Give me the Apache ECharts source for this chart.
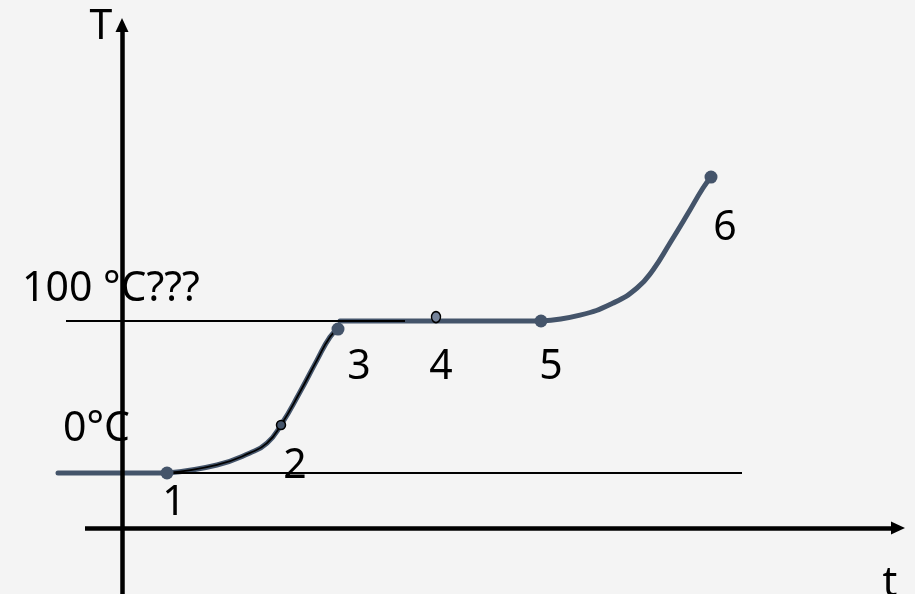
<!DOCTYPE html>
<html>
<head>
<meta charset="utf-8">
<script src="https://cdn.jsdelivr.net/npm/echarts@6/dist/echarts.min.js"></script>
<style>
html,body{margin:0;padding:0;background:#f4f4f4}
#main{width:915px;height:594px}
</style>
</head>
<body>
<div id="main"></div>
<script>
// 加热曲线: t 时间(任意单位), T 温度(°C)
// 冰段(水平)
var iceT = [-6.4, 4.5];
var iceTemp = [0, 0];
// 1 -> 3 升温曲线
var meltT = [4.5, 9.5, 12.8, 14.5, 15.9, 17.8, 19.5, 20.8, 21.6];
var meltTemp = [0, 5.3, 13.2, 19.7, 31.6, 53.3, 74.3, 89.5, 94.7];
// 3 -> 5 沸腾(水平)
var boilT = [21.8, 41.9];
var boilTemp = [100, 100];
// 5 -> 6 蒸汽升温
var steamT = [41.9, 45.8, 49.1, 51.5, 53.1, 54.8, 56.5, 58.1, 58.9];
var steamTemp = [100, 103.9, 111.8, 121.7, 133.6, 151.3, 169.7, 187.5, 194.7];

// 标记点
var pointNames = ['1', '2', '3', '4', '5', '6'];
var pointT = [4.5, 15.9, 21.6, 31.4, 41.9, 58.9];
var pointTemp = [0, 31.6, 94.7, 102.6, 100, 194.7];

// 参考线
var refNames = ['0°C', '100 °C???'];
var refTemp = [0, 100];
var refFrom = [4.5, -5.6];
var refTo = [62, 28.3];

// 坐标轴(带箭头)
var tAxisFrom = -3.7, tAxisTo = 77.6, tAxisAt = -36.2;
var TAxisFrom = -79.6, TAxisTo = 294.7, TAxisAt = 0;

var slate = '#44546a';
var font = 'Noto Sans';

function pairs(xs, ys) {
  return xs.map(function (x, i) { return [x, ys[i]]; });
}

var myChart = echarts.init(document.getElementById('main'));

// 每个点的样式
var pointStyle = [
  {size: 13, offset: [7, 30]},
  {size: 9, border: true, offset: [14, 41]},
  {size: 13, offset: [21, 38]},
  {size: [9, 11], border: true, fill: '#75839a', offset: [5, 50]},
  {size: 13, offset: [10, 46]},
  {size: 13, offset: [14, 51]}
];

var pointData = pointNames.map(function (n, i) {
  var s = pointStyle[i];
  return {
    name: n,
    value: [pointT[i], pointTemp[i]],
    symbolSize: s.size,
    itemStyle: {
      color: s.fill || slate,
      borderColor: s.border ? '#000' : slate,
      borderWidth: s.border ? 1.5 : 0,
      opacity: 1
    },
    label: {offset: s.offset}
  };
});

function curve(xs, ys, smooth, color, width, z) {
  return {
    type: 'line',
    data: pairs(xs, ys),
    smooth: smooth,
    symbol: 'none',
    silent: true,
    z: z,
    lineStyle: {color: color, width: width, cap: 'round'}
  };
}

var series = [
  curve(iceT, iceTemp, false, slate, 5, 2),
  curve(meltT, meltTemp, 0.5, slate, 5, 2),
  curve(boilT, boilTemp, false, slate, 5, 2),
  curve(steamT, steamTemp, 0.5, slate, 5, 2),
  // 1->3 上面的黑色细线
  curve(meltT, meltTemp, 0.5, '#000', 1.8, 3)
];

refNames.forEach(function (n, i) {
  series.push({
    type: 'line',
    name: n,
    data: [[refFrom[i], refTemp[i]], [refTo[i], refTemp[i]]],
    symbol: 'none',
    silent: true,
    z: 4,
    lineStyle: {color: '#000', width: 1.8}
  });
});

series.push({
  type: 'scatter',
  data: pointData,
  z: 5,
  itemStyle: {opacity: 1},
  label: {
    show: true,
    position: 'inside',
    formatter: '{b}',
    fontSize: 41,
    fontFamily: font,
    color: '#000',
    opacity: 1
  }
});

// 坐标轴
series.push({
  type: 'line',
  data: [],
  z: 10,
  markLine: {
    silent: true,
    symbol: ['none', 'triangle'],
    symbolSize: [13, 14],
    label: {show: false},
    lineStyle: {color: '#000', width: 4.5, type: 'solid'},
    data: [
      [{coord: [tAxisFrom, tAxisAt]}, {coord: [tAxisTo, tAxisAt]}],
      [{coord: [TAxisAt, TAxisFrom]}, {coord: [TAxisAt, TAxisTo]}]
    ]
  }
});

var option = {
  backgroundColor: '#f4f4f4',
  animation: false,
  grid: {left: 0, right: 0, top: 0, bottom: 0},
  xAxis: {type: 'value', min: -12.2, max: 79.3, show: false},
  yAxis: {type: 'value', min: -79.6, max: 311.2, show: false},
  graphic: [
    {type: 'text', z: 8, style: {text: 'T', x: 101, y: 27, fontSize: 41, fontFamily: font, fill: '#000', align: 'center', verticalAlign: 'middle'}},
    {type: 'text', z: 8, style: {text: 't', x: 890, y: 584, fontSize: 41, fontFamily: font, fill: '#000', align: 'center', verticalAlign: 'middle'}},
    {type: 'text', z: 8, style: {text: refNames[1], x: 22, y: 289, fontSize: 41, fontFamily: font, fill: '#000', align: 'left', verticalAlign: 'middle'}},
    {type: 'text', z: 8, style: {text: refNames[0], x: 63, y: 429, fontSize: 41, fontFamily: font, fill: '#000', align: 'left', verticalAlign: 'middle'}}
  ],
  series: series
};
myChart.setOption(option);
</script>
</body>
</html>
